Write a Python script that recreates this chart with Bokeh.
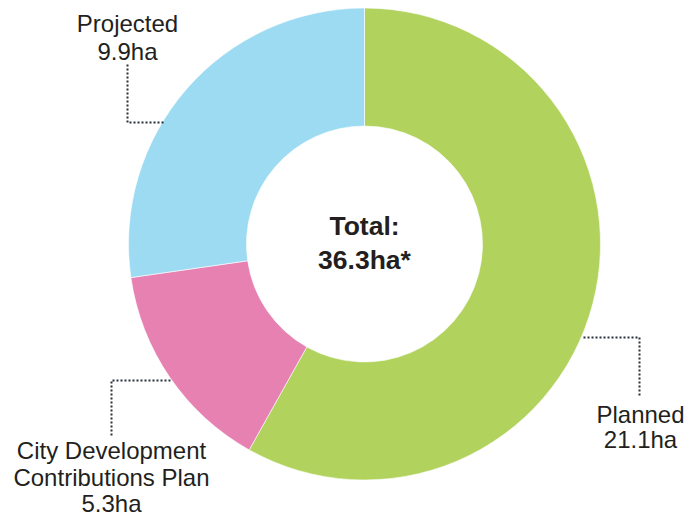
import numpy as np
from bokeh.plotting import figure
from bokeh.models import Range1d, ColumnDataSource
from bokeh.core.properties import value
from bokeh.embed import file_html
from bokeh.resources import INLINE

# ---- data ----
categories = ["Planned", "City Development Contributions Plan", "Projected"]
values = [21.1, 5.3, 9.9]
colors = ["#b1d35e", "#e681b2", "#9ddbf3"]
label_lines = [["Planned", "21.1ha"],
               ["City Development", "Contributions Plan", "5.3ha"],
               ["Projected", "9.9ha"]]
total_text = ["Total:", "36.3ha*"]

# ---- layout (page pixel coordinates; y converted to data below) ----
W, H = 700, 516


def Y(py):
    return H - py


cx, cy = 364, Y(243.5)
r_out, r_in = 236, 118

p = figure(width=W, height=H, output_backend="svg", toolbar_location=None,
           x_range=Range1d(0, W), y_range=Range1d(0, H),
           min_border=0, outline_line_color=None)
p.axis.visible = False
p.grid.visible = False
p.background_fill_color = "white"
p.border_fill_color = "white"

vals = np.array(values)
tot = vals.sum()
cum = np.cumsum(vals)
starts = np.pi / 2 - 2 * np.pi * (cum - vals) / tot
ends = np.pi / 2 - 2 * np.pi * cum / tot

src = ColumnDataSource(dict(start=starts, end=ends, color=colors, cat=categories))
p.annular_wedge(x=cx, y=cy, inner_radius=r_in, outer_radius=r_out,
                start_angle="start", end_angle="end", direction="clock",
                fill_color="color", line_color="white", line_width=0.6, source=src)

# leader lines (pixel coordinates)
leaders = [
    [(583, 337), (639, 337), (639, 395)],
    [(170, 380), (111, 380), (111, 437)],
    [(127, 64), (127, 122), (163, 122)],
]
for pts in leaders:
    p.line([q[0] for q in pts], [Y(q[1]) for q in pts], line_color="#26313d",
           line_width=2, line_dash="2 2")

# label text positions: (center x, vertical centres of lines)
label_pos = [
    (640, [413.5, 438.5]),
    (111, [450, 477, 503]),
    (127, [22.5, 50.5]),
]
for lines, (lx, mids) in zip(label_lines, label_pos):
    p.text(x=[lx] * len(lines), y=[Y(m) for m in mids], text=lines,
           text_font=value("Liberation Sans"), text_font_size="24px",
           text_color="#231f20", text_align="center", text_baseline="middle")

p.text(x=[cx, cx], y=[Y(225), Y(259.5)], text=total_text,
       text_font=value("Liberation Sans"), text_font_size="26.5px",
       text_font_style="bold", text_color="#231f20",
       text_align="center", text_baseline="middle")

open("out.html", "w").write(file_html(p, INLINE))
